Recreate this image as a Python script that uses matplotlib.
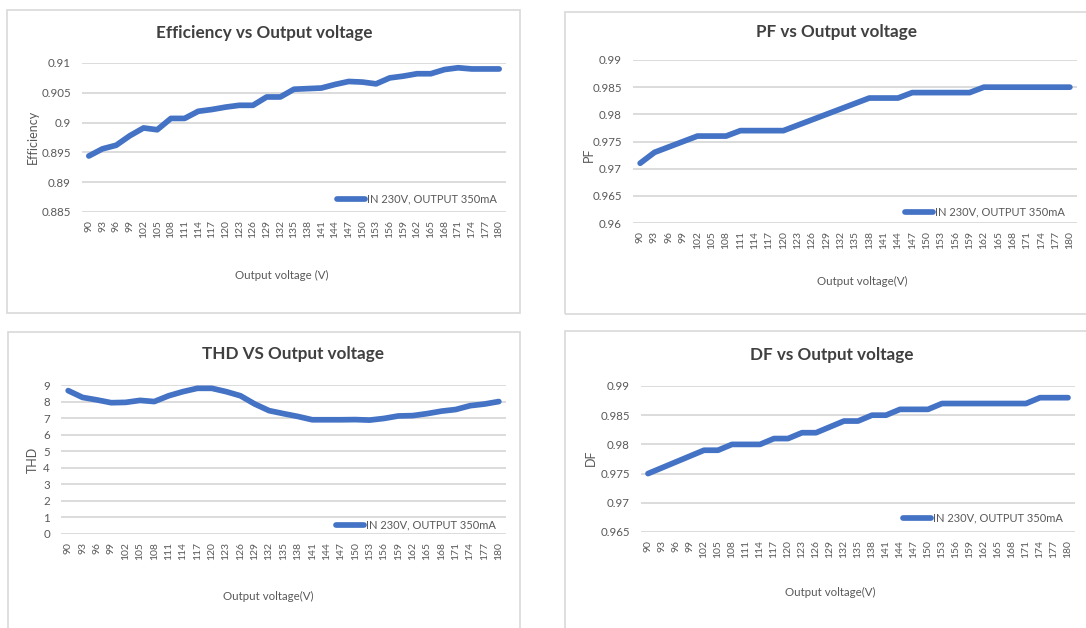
import matplotlib
matplotlib.use("Agg")
import matplotlib.pyplot as plt
from matplotlib.patches import Rectangle
from matplotlib.ticker import FuncFormatter

plt.rcParams["font.family"] = ["Lato", "DejaVu Sans"]

# ---- data -------------------------------------------------------------
voltage = list(range(90, 181, 3))

efficiency = [0.8944, 0.8956, 0.8962, 0.8978, 0.8991, 0.8988, 0.9007, 0.9007,
              0.9019, 0.9022, 0.9026, 0.9029, 0.9029, 0.9043, 0.9043, 0.9056,
              0.9057, 0.9058, 0.9064, 0.9069, 0.9068, 0.9065, 0.9075, 0.9078,
              0.9082, 0.9082, 0.9089, 0.9092, 0.9090, 0.9090, 0.9090]

pf = [0.971, 0.973, 0.974, 0.975, 0.976, 0.976, 0.976, 0.977, 0.977, 0.977,
      0.977, 0.978, 0.979, 0.980, 0.981, 0.982, 0.983, 0.983, 0.983, 0.984,
      0.984, 0.984, 0.984, 0.984, 0.985, 0.985, 0.985, 0.985, 0.985, 0.985,
      0.985]

thd = [8.66, 8.25, 8.10, 7.93, 7.95, 8.07, 8.00, 8.35, 8.60, 8.80, 8.80,
       8.60, 8.35, 7.85, 7.45, 7.27, 7.10, 6.90, 6.90, 6.90, 6.91, 6.88,
       6.98, 7.13, 7.15, 7.27, 7.42, 7.52, 7.75, 7.85, 8.00]

df = [0.975, 0.976, 0.977, 0.978, 0.979, 0.979, 0.980, 0.980, 0.980, 0.981,
      0.981, 0.982, 0.982, 0.983, 0.984, 0.984, 0.985, 0.985, 0.986, 0.986,
      0.986, 0.987, 0.987, 0.987, 0.987, 0.987, 0.987, 0.987, 0.988, 0.988,
      0.988]

series_label = "IN 230V, OUTPUT 350mA"

# ---- layout (pixels) --------------------------------------------------
W, H = 1086, 628
BLUE = "#4472C4"
GRID = "#d9d9d9"
TXT = "#595959"

fig = plt.figure(figsize=(W / 100, H / 100), dpi=100)


def fx(px):
    return px / W


def fy(py):
    return 1 - py / H


def panel(values, border, axbox, ylim, ystep, title, title_xy, ylabel, ylabel_xy,
          xlabel, xlabel_xy, leg_xy):
    bx0, by0, bx1, by1 = border
    fig.patches.append(Rectangle((fx(bx0), fy(by1)), fx(bx1 - bx0), (by1 - by0) / H,
                                 transform=fig.transFigure, fill=False,
                                 ec=GRID, lw=1.2))
    x0, y0, x1, y1 = axbox
    ax = fig.add_axes([fx(x0), fy(y1), fx(x1 - x0), (y1 - y0) / H])
    idx = list(range(len(voltage)))
    ax.plot(idx, values, color=BLUE, lw=4.1, solid_capstyle="round",
            solid_joinstyle="round", label=series_label, clip_on=False)
    ax.set_xlim(-0.5, len(voltage) - 0.5)
    ax.set_ylim(*ylim)
    n = int(round((ylim[1] - ylim[0]) / ystep))
    ax.set_yticks([ylim[0] + i * ystep for i in range(n + 1)])
    ax.yaxis.set_major_formatter(FuncFormatter(lambda v, p: f"{round(v, 4):g}"))
    ax.set_xticks(idx)
    ax.set_xticklabels([str(v) for v in voltage], rotation=90, fontsize=7.5,
                       color=TXT, va="top")
    ax.tick_params(axis="y", labelsize=8.3, colors=TXT, length=0, pad=8)
    ax.tick_params(axis="x", length=0, pad=6)
    for s in ax.spines.values():
        s.set_visible(False)
    ax.grid(axis="y", color=GRID, lw=1.3)
    ax.set_axisbelow(True)

    fig.text(fx(title_xy[0]), fy(title_xy[1]), title, ha="center", va="center",
             fontsize=12.3, fontweight="bold", color="#404040")
    fig.text(fx(ylabel_xy[0]), fy(ylabel_xy[1]), ylabel, ha="center", va="center",
             rotation=90, fontsize=9, color=TXT)
    fig.text(fx(xlabel_xy[0]), fy(xlabel_xy[1]), xlabel, ha="center", va="center",
             fontsize=8.3, color=TXT)

    # legend: right edge of text at leg_xy[0], centre at leg_xy[1]
    lx = (leg_xy[0] - x0) / (x1 - x0)
    ly = (y1 - leg_xy[1]) / (y1 - y0)
    ax.legend(loc="center right", bbox_to_anchor=(lx, ly), frameon=False,
              fontsize=8, labelcolor=TXT, handlelength=2.6, handletextpad=0.15,
              borderpad=0, borderaxespad=0)
    return ax


panel(efficiency, (7, 10, 520, 313), (82, 63, 506, 212), (0.885, 0.91), 0.005,
      "Efficiency vs Output voltage", (264, 33), "Efficiency", (33, 137),
      "Output voltage (V)", (282, 275), (497, 199))

panel(pf, (565, 12, 1100, 314), (633, 60, 1077, 223), (0.96, 0.99), 0.005,
      "PF vs Output voltage", (836, 32), "PF", (589, 155),
      "Output voltage(V)", (862, 281), (1065, 212))

panel(thd, (8, 332, 520, 640), (61, 385, 506, 534), (0, 9), 1,
      "THD VS Output voltage", (293, 354), "THD", (33, 460),
      "Output voltage(V)", (268, 596), (496, 525))

panel(df, (565, 331, 1100, 640), (641, 386, 1075, 532), (0.965, 0.99), 0.005,
      "DF vs Output voltage", (832, 355), "DF", (591, 458),
      "Output voltage(V)", (830, 592), (1063, 518))

fig.savefig("out.png", dpi=100)
